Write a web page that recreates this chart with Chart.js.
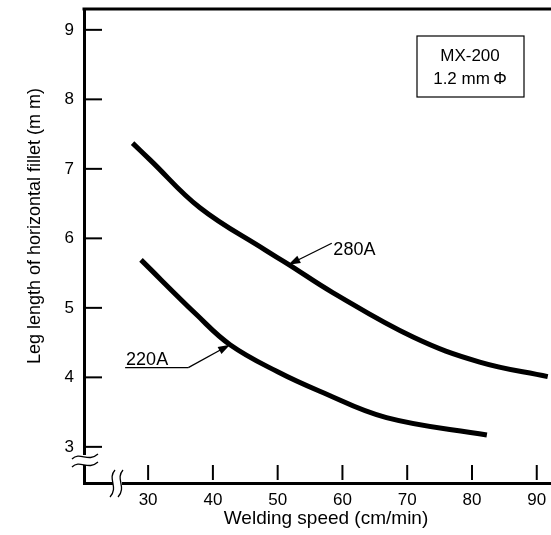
<!DOCTYPE html>
<html>
<head>
<meta charset="utf-8">
<script src="https://cdn.jsdelivr.net/npm/chart.js@4/dist/chart.umd.min.js"></script>
<style>
  html, body { margin: 0; padding: 0; background: #fff; }
  #wrap { width: 551px; height: 535px; }
</style>
</head>
<body>
<div id="wrap"><canvas id="filetChart" width="551" height="535"></canvas></div>
<script>
// datos
const velocidad280 = [27.6, 30.3, 38.0, 48.1, 51.6, 58.5, 70.9, 81.2, 91.7];
const pierna280   = [7.37, 7.13, 6.44, 5.83, 5.63, 5.22, 4.58, 4.22, 4.01];
const velocidad220 = [28.9, 37.5, 42.65, 50.0, 56.5, 66.8, 82.3];
const pierna220   = [5.69, 4.90, 4.47, 4.08, 3.80, 3.42, 3.17];
const ticksX = [30, 40, 50, 60, 70, 80, 90];
const ticksY = [3, 4, 5, 6, 7, 8, 9];
const etiquetas = ['280A', '220A'];
const cajaTexto = ['MX-200', '1.2 mm\u2009\u03A6'];

const fuente = '"Liberation Sans", Arial, sans-serif';

function puntos(xs, ys) {
    return xs.map((x, i) => ({ x: x, y: ys[i] }));
}

function flecha(ctx, x1, y1, x2, y2) {
    // linea con punta rellena en (x2, y2)
    const ang = Math.atan2(y2 - y1, x2 - x1);
    ctx.beginPath();
    ctx.moveTo(x1, y1);
    ctx.lineTo(x2 - 8 * Math.cos(ang), y2 - 8 * Math.sin(ang));
    ctx.stroke();
    ctx.beginPath();
    ctx.moveTo(x2, y2);
    ctx.lineTo(x2 - 12 * Math.cos(ang) + 4 * Math.sin(ang), y2 - 12 * Math.sin(ang) - 4 * Math.cos(ang));
    ctx.lineTo(x2 - 12 * Math.cos(ang) - 4 * Math.sin(ang), y2 - 12 * Math.sin(ang) + 4 * Math.cos(ang));
    ctx.closePath();
    ctx.fill();
}

const extras = {
    id: 'extras',
    afterDraw(chart) {
        const ctx = chart.ctx;
        const a = chart.chartArea;
        const sx = chart.scales.x, sy = chart.scales.y;
        ctx.save();
        ctx.strokeStyle = '#000';
        ctx.fillStyle = '#000';

        // borde superior
        ctx.lineWidth = 3;
        ctx.beginPath();
        ctx.moveTo(a.left - 1.5, a.top);
        ctx.lineTo(a.right, a.top);
        ctx.stroke();

        // marcas de los ejes hacia dentro
        ctx.lineWidth = 2;
        ticksY.forEach(v => {
            const y = sy.getPixelForValue(v);
            ctx.beginPath();
            ctx.moveTo(a.left, y);
            ctx.lineTo(a.left + 18, y);
            ctx.stroke();
        });
        ticksX.forEach(v => {
            const x = sx.getPixelForValue(v);
            ctx.beginPath();
            ctx.moveTo(x, a.bottom - 18);
            ctx.lineTo(x, a.bottom - 3);
            ctx.stroke();
        });

        // cortes de eje
        ctx.fillStyle = '#fff';
        ctx.fillRect(a.left - 3, a.bottom - 28, 6, 10);
        ctx.fillRect(a.left + 29, a.bottom - 3, 9, 6);
        ctx.fillStyle = '#000';
        ctx.lineWidth = 1.3;
        [a.bottom - 28, a.bottom - 20].forEach(y0 => {
            ctx.beginPath();
            ctx.moveTo(a.left - 12, y0 + 4);
            ctx.bezierCurveTo(a.left - 4, y0 - 4, a.left + 4, y0 + 8, a.left + 14, y0 - 1);
            ctx.stroke();
        });
        [a.left + 29, a.left + 37].forEach(x0 => {
            ctx.beginPath();
            ctx.moveTo(x0 + 2, a.bottom - 13);
            ctx.bezierCurveTo(x0 - 6, a.bottom - 4, x0 + 6, a.bottom + 4, x0 - 3, a.bottom + 14);
            ctx.stroke();
        });

        // caja de leyenda
        ctx.lineWidth = 1.2;
        ctx.strokeRect(a.left + 333, a.top + 27, 107, 61);
        ctx.font = '17px "Liberation Sans Narrow", ' + fuente;
        ctx.textAlign = 'center';
        ctx.textBaseline = 'middle';
        ctx.fillText(cajaTexto[0], a.left + 386, a.top + 47);
        ctx.fillText(cajaTexto[1], a.left + 386, a.top + 70);

        // etiquetas de curvas con flechas
        ctx.lineWidth = 1.3;
        flecha(ctx, sx.getPixelForValue(58.35), sy.getPixelForValue(5.93),
                    sx.getPixelForValue(51.65), sy.getPixelForValue(5.62));
        ctx.font = '18px ' + fuente;
        ctx.textAlign = 'left';
        ctx.textBaseline = 'alphabetic';
        ctx.fillText(etiquetas[0], sx.getPixelForValue(58.6), sy.getPixelForValue(5.76));
        ctx.fillText(etiquetas[1], sx.getPixelForValue(26.6), sy.getPixelForValue(4.18));
        const ux1 = sx.getPixelForValue(26.45), ux2 = sx.getPixelForValue(36.2), uy = sy.getPixelForValue(4.14);
        ctx.beginPath();
        ctx.moveTo(ux1, uy);
        ctx.lineTo(ux2, uy);
        ctx.stroke();
        flecha(ctx, ux2, uy, sx.getPixelForValue(42.65), sy.getPixelForValue(4.47));

        // titulos de los ejes
        ctx.textAlign = 'center';
        ctx.textBaseline = 'middle';
        ctx.font = '19px ' + fuente;
        ctx.fillText('Welding speed (cm/min)', 326, 519);
        ctx.translate(35, 226);
        ctx.rotate(-Math.PI / 2);
        ctx.font = '18px ' + fuente;
        ctx.fillText('Leg length of horizontal fillet (m m)', 0, 0);
        ctx.restore();
    }
};

const ctx = document.getElementById('filetChart').getContext('2d');
const filetChart = new Chart(ctx, {
    type: 'line',
    data: {
        datasets: [
            { label: etiquetas[0], data: puntos(velocidad280, pierna280) },
            { label: etiquetas[1], data: puntos(velocidad220, pierna220) }
        ]
    },
    options: {
        responsive: false,
        animation: false,
        layout: { padding: { top: 9, right: 0, left: 0, bottom: 0 } },
        elements: {
            line: { borderColor: '#000', borderWidth: 5, tension: 0.4, borderCapStyle: 'butt' },
            point: { radius: 0 }
        },
        plugins: { legend: { display: false }, tooltip: { enabled: false } },
        scales: {
            x: {
                type: 'linear',
                min: 20.1,
                max: 92.2,
                afterFit: s => { s.height = 52; s.paddingLeft = 0; s.paddingRight = 0; },
                afterBuildTicks: s => { s.ticks = ticksX.map(v => ({ value: v })); },
                grid: { display: false, drawTicks: false },
                border: { display: true, color: '#000', width: 3 },
                ticks: { color: '#000', font: { size: 17, family: fuente }, padding: 7, maxRotation: 0 }
            },
            y: {
                type: 'linear',
                min: 2.48,
                max: 9.3,
                afterFit: s => { s.width = 84; s.paddingTop = 0; s.paddingBottom = 0; },
                afterBuildTicks: s => { s.ticks = ticksY.map(v => ({ value: v })); },
                grid: { display: false, drawTicks: false },
                border: { display: true, color: '#000', width: 3 },
                ticks: { color: '#000', font: { size: 17, family: fuente }, padding: 10 }
            }
        }
    },
    plugins: [extras]
});
</script>
</body>
</html>
